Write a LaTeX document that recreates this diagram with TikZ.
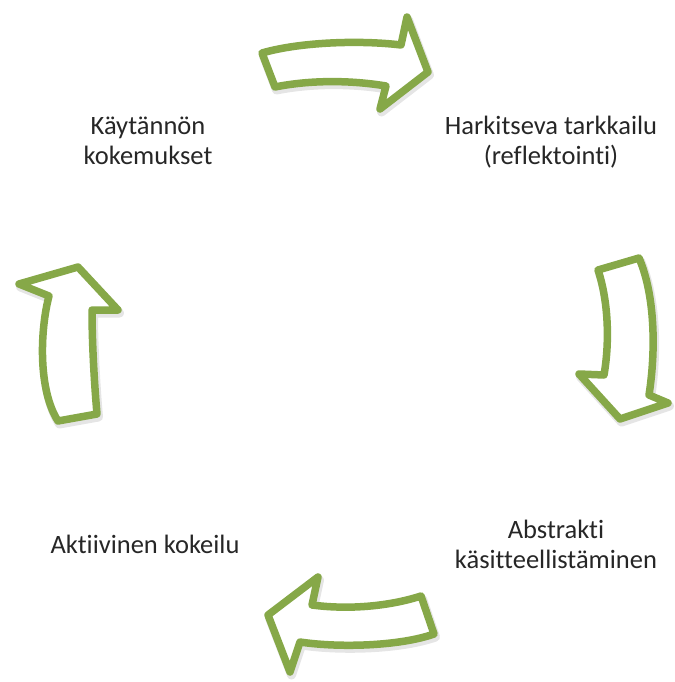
\documentclass[tikz,border=0pt]{standalone}
\usepackage{fontspec}
\setmainfont{Carlito}[Ligatures={NoCommon}]
\definecolor{arrowgreen}{RGB}{134,168,72}
\newcommand\ArrTopPath{(262,53) .. controls (300,42) and (360,40) .. (401,45)
  -- (407,17) -- (428,72) -- (380,109) -- (386,86)
  .. controls (350,80) and (310,80) .. (275,87) -- cycle}
\newcommand\ArrRightPath{(598,270) -- (639,258) .. controls (655,295) and (656,350) .. (649,395)
  -- (668,403) -- (620,419) -- (579,374) -- (604,375)
  .. controls (610,340) and (608,300) .. (598,270) -- cycle}
\newcommand\ArrBottomPath{(421,596) -- (434,634) .. controls (400,646) and (340,648) .. (300,642)
  -- (290,672) -- (268,615) -- (318,577) -- (312,605)
  .. controls (350,610) and (390,606) .. (421,596) -- cycle}
\newcommand\ArrLeftPath{(58,421) -- (97,414) .. controls (94,380) and (92,340) .. (92,310)
  -- (118,310) -- (78,267) -- (19,284) -- (49,296)
  .. controls (40,330) and (38,390) .. (58,421) -- cycle}
\tikzset{
  cyclearrow/.style={draw=arrowgreen, fill=white, line width=7.5pt, line join=round},
  softshadow/.style={draw=black, fill=black, draw opacity=0.10, fill opacity=0.10, line width=9pt, line join=round},
  label/.style={font=\fontsize{26.5}{30}\selectfont, text=black!85, align=center, inner sep=0pt, anchor=base}
}
\begin{document}
\begin{tikzpicture}[x=1pt,y=-1pt]
\useasboundingbox (0,0) rectangle (674,682);
% shadows
\begin{scope}[shift={(1.5,3)}]
\path[softshadow] \ArrTopPath;
\path[softshadow] \ArrRightPath;
\path[softshadow] \ArrBottomPath;
\path[softshadow] \ArrLeftPath;
\end{scope}
% arrows
\draw[cyclearrow] \ArrTopPath;
\draw[cyclearrow] \ArrRightPath;
\draw[cyclearrow] \ArrBottomPath;
\draw[cyclearrow] \ArrLeftPath;
% labels (anchor at baseline of last line)
\node[label] (kay) at (148,164) {Käytännön\\kokemukset};
\node[label] (har) at (551,164) {Harkitseva tarkkailu\\(reflektointi)};
\node[label] (abs) at (556,568) {Abstrakti\\käsitteellistäminen};
\node[label] (akt) at (145,553) {Aktiivinen kokeilu};
\end{tikzpicture}
\end{document}
